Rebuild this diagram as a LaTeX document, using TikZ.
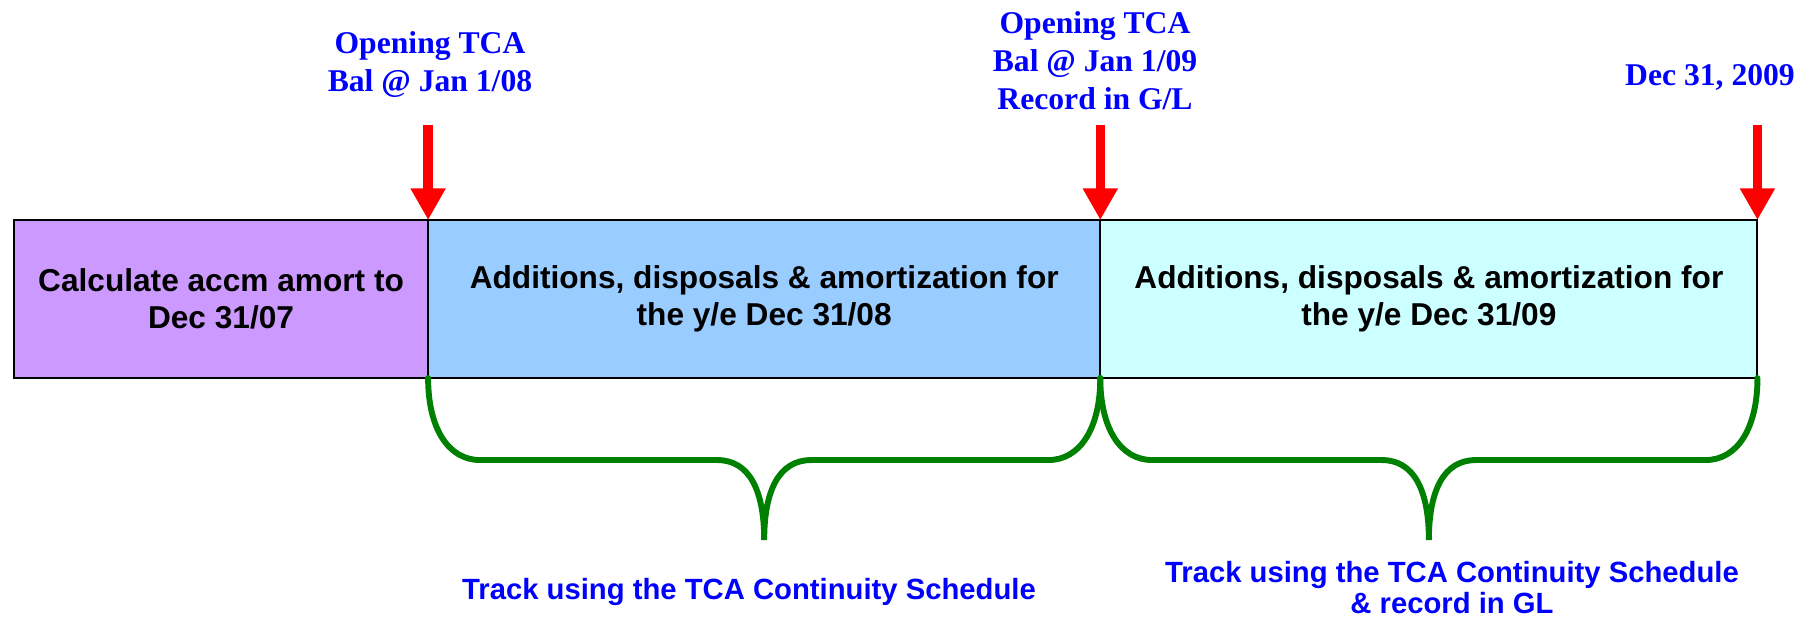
\documentclass[tikz,border=0pt]{standalone}
\usepackage{fontspec}
\newfontfamily\sansfont{Liberation Sans}
\newfontfamily\seriffont{Liberation Serif}
\usetikzlibrary{positioning, calc, arrows.meta}

\definecolor{yearzero}{HTML}{CC99FF}
\definecolor{yearone}{HTML}{99CCFF}
\definecolor{yeartwo}{HTML}{CCFFFF}
\definecolor{tcablue}{HTML}{0000FF}
\definecolor{tcagreen}{HTML}{008000}

\begin{document}
\begin{tikzpicture}[
    x=0.025cm, y=0.025cm,
    period/.style={draw=black, line width=1.4pt, outer sep=0pt, inner sep=0pt, minimum height=3.95cm, align=center, font=\sansfont\bfseries\fontsize{22.5}{26.5}\selectfont},
    datemark/.style={draw=red, line width=6.6pt, -{Triangle[width=23.5pt, length=22.5pt]}},
    datelabel/.style={anchor=north, inner sep=0pt, align=center, text=tcablue, font=\seriffont\bfseries\fontsize{22.5}{27}\selectfont},
    span/.style={draw=tcagreen, line width=4.2pt, line cap=round},
    spanlabel/.style={anchor=north, inner sep=0pt, align=center, text=tcablue, font=\sansfont\bfseries\fontsize{20.8}{22}\selectfont}
  ]
  \useasboundingbox (0,0) rectangle (1814,-618);

  % the three periods
  \node [period, fill=yearzero, minimum width=10.35cm, anchor=north west] (b1) at (14,-220) {Calculate accm amort to\\Dec 31/07};
  \node [period, fill=yearone, minimum width=16.8cm, right=0pt of b1] (b2) {Additions, disposals \& amortization for\\the y/e Dec 31/08};
  \node [period, fill=yeartwo, minimum width=16.425cm, right=0pt of b2] (b3) {Additions, disposals \& amortization for\\the y/e Dec 31/09};

  \foreach \n in {b1,b2,b3} {
    \coordinate (\n-top) at ($(\n.north east)+(0,95)$);
    \draw [datemark] (\n-top) -- (\n.north east);
  }

  \node [datelabel] (l1) at (430,-31) {Opening TCA\\Bal @ Jan 1/08};
  \node [datelabel] (l2) at (1095,-11) {Opening TCA\\Bal @ Jan 1/09\\Record in G/L};
  \node [datelabel] (l3) at (1710,-64) {Dec 31, 2009};

  % braces under the two years
  \foreach \n in {b2,b3} {
    \draw [span] (\n.south west) .. controls +(0,-50) and +(-32,0) .. ++(52,-82)
      -- ($(\n.south)+(-47,-82)$) .. controls +(32,0) and +(0,50) .. ($(\n.south)+(0,-162)$)
      .. controls +(0,50) and +(-32,0) .. ($(\n.south)+(47,-82)$)
      -- ($(\n.south east)+(-52,-82)$) .. controls +(32,0) and +(0,-50) .. (\n.south east);
  }

  \node [spanlabel] (s1) at (749,-578) {Track using the TCA Continuity Schedule};
  \node [spanlabel] (s2) at (1452,-561) {Track using the TCA Continuity Schedule\\\& record in GL};

\end{tikzpicture}
\end{document}
